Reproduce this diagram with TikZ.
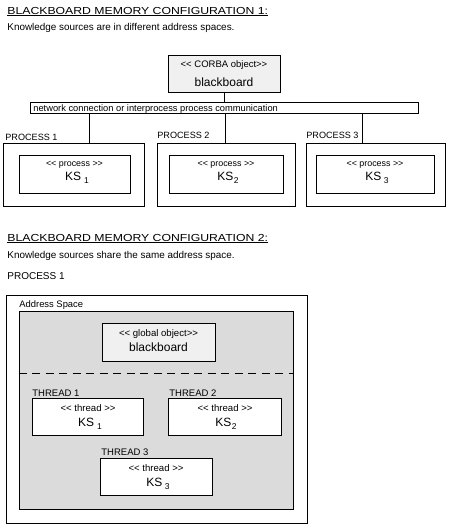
\documentclass[tikz,border=0pt]{standalone}
\usepackage{fontspec}
\setmainfont{Liberation Sans}
\newfontfamily\ttlfont[FakeStretch=1.2]{Liberation Sans}
\newcommand\opn{<\kern0pt<}
\newcommand\cls{>\kern0pt>}
\newcommand\ksub[2]{KS\kern#2\raisebox{-3pt}{\fontsize{8.5}{9}\selectfont #1}}
\definecolor{lightbox}{gray}{0.94}
\definecolor{areagray}{gray}{0.86}
\begin{document}
\begin{tikzpicture}[x=1pt,y=-1pt,line width=0.8pt,
  box/.style={draw,rectangle,inner sep=0pt},
  txt/.style={inner sep=0pt,font=\fontsize{9.3}{11}\selectfont},
  big/.style={inner sep=0pt,font=\fontsize{12}{14}\selectfont},
  ttl/.style={inner sep=0pt,anchor=base west,font=\fontsize{10.2}{12}\ttlfont},
  lbl/.style={inner sep=0pt,anchor=base west},
  dashline/.style={dash pattern=on 8pt off 5.5pt}]
\useasboundingbox (0,0) rectangle (450,530);

% ---------- configuration 1 ----------
\node[ttl] (t1) at (7,14) {\underline{BLACKBOARD MEMORY CONFIGURATION 1:}};
\node[lbl,font=\fontsize{9.9}{11}\selectfont] (s1) at (7,30) {Knowledge sources are in different address spaces.};

\node[box,fill=lightbox,minimum width=112,minimum height=37] (corba) at (224,73.5) {};
\node[txt,anchor=base,font=\fontsize{9.5}{11}\selectfont] (corbaA) at (224,67) {\opn\ CORBA object\cls};
\node[big,anchor=base] (corbaB) at (224,86) {blackboard};

\node[box,minimum width=388,minimum height=11] (net) at (224,107.5) {};
\node[txt,lbl] (netT) at (33,111) {network connection or interprocess process communication};

\draw (corba.south) -- (net.north);

\node[box,minimum width=141,minimum height=63] (p1) at (73.5,174.5) {};
\node[box,minimum width=138,minimum height=63] (p2) at (226,174.5) {};
\node[box,minimum width=139,minimum height=63] (p3) at (375.5,174.5) {};

\coordinate (c1) at (89,0);
\coordinate (c2) at (225,0);
\coordinate (c3) at (362,0);
\draw (net.south -| c1) -- (p1.north -| c1);
\draw (net.south -| c2) -- (p2.north -| c2);
\draw (net.south -| c3) -- (p3.north -| c3);

\node[lbl,font=\fontsize{9.1}{11}\selectfont] (p1L) at (5,140.5) {PROCESS 1};
\node[lbl,font=\fontsize{9.1}{11}\selectfont] (p2L) at (157,138.5) {PROCESS 2};
\node[lbl,font=\fontsize{9.1}{11}\selectfont] (p3L) at (306,138.5) {PROCESS 3};

\node[box,minimum width=111,minimum height=38] (k1) at (74.5,174) {};
\node[box,minimum width=114,minimum height=38] (k2) at (226,174) {};
\node[box,minimum width=118,minimum height=38] (k3) at (375,174) {};

\node[txt,anchor=base,font=\fontsize{8.9}{11}\selectfont] (k1a) at (74.5,166) {\opn\ process \cls};
\node[txt,anchor=base,font=\fontsize{8.9}{11}\selectfont] (k2a) at (226,166) {\opn\ process \cls};
\node[txt,anchor=base,font=\fontsize{8.9}{11}\selectfont] (k3a) at (375,166) {\opn\ process \cls};
\node[big,anchor=base] (k1b) at (77,180.7) {\ksub{1}{3pt}};
\node[big,anchor=base] (k2b) at (228,180.7) {\ksub{2}{0.6pt}};
\node[big,anchor=base] (k3b) at (377,180.7) {\ksub{3}{2.5pt}};

% ---------- configuration 2 ----------
\node[ttl] (t2) at (7,241) {\underline{BLACKBOARD MEMORY CONFIGURATION 2:}};
\node[lbl,font=\fontsize{9.9}{11}\selectfont] (s2) at (7,258) {Knowledge sources share the same address space.};

\node[lbl,font=\fontsize{10}{12}\selectfont] (pp) at (7,279) {PROCESS 1};

\node[box,minimum width=301,minimum height=228] (outer) at (156.5,409) {};
\node[lbl,font=\fontsize{9.4}{11}\selectfont] (asL) at (19,307.7) {Address Space};
\node[box,fill=areagray,minimum width=274,minimum height=198] (area) at (156,410) {};

\node[box,fill=lightbox,minimum width=113,minimum height=38] (glob) at (158.5,342) {};
\node[txt,anchor=base,font=\fontsize{9.6}{11}\selectfont] (globA) at (158.5,336) {\opn\ global object\cls};
\node[big,anchor=base] (globB) at (158.5,351.7) {blackboard};

\coordinate (dl) at (0,373);
\draw[dashline] (area.west |- dl) -- (area.east |- dl);

\node[lbl,font=\fontsize{9.5}{11}\selectfont] (th1L) at (32,396) {THREAD 1};
\node[lbl,font=\fontsize{9.5}{11}\selectfont] (th2L) at (169,396) {THREAD 2};
\node[lbl,font=\fontsize{9.5}{11}\selectfont] (th3L) at (101,455.7) {THREAD 3};

\node[box,fill=white,minimum width=111,minimum height=37] (th1) at (87.5,416.5) {};
\node[box,fill=white,minimum width=113,minimum height=37] (th2) at (224.5,416.5) {};
\node[box,fill=white,minimum width=112,minimum height=37] (th3) at (156,476.5) {};

\node[txt,anchor=base,font=\fontsize{9.6}{11}\selectfont] (th1a) at (88,411) {\opn\ thread \cls};
\node[txt,anchor=base,font=\fontsize{9.6}{11}\selectfont] (th2a) at (225,411) {\opn\ thread \cls};
\node[txt,anchor=base,font=\fontsize{9.6}{11}\selectfont] (th3a) at (156,471) {\opn\ thread \cls};
\node[big,anchor=base] (th1b) at (90,426.7) {\ksub{1}{3pt}};
\node[big,anchor=base] (th2b) at (226,426.7) {\ksub{2}{0.6pt}};
\node[big,anchor=base] (th3b) at (158,486.7) {\ksub{3}{2.5pt}};
\end{tikzpicture}
\end{document}
